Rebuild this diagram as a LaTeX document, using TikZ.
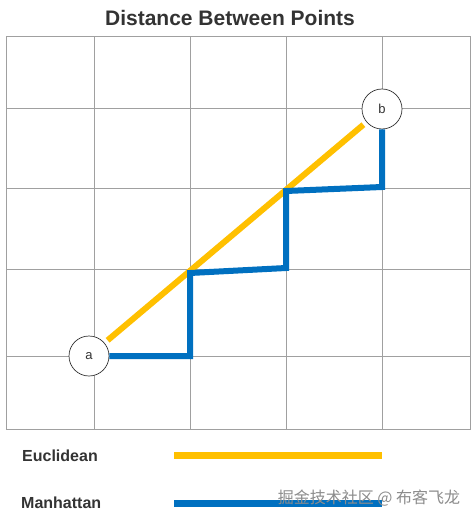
\documentclass[tikz,border=0pt]{standalone}
\usepackage{fontspec}
\setmainfont{Liberation Sans}
\newfontfamily\cjkfont{Noto Sans CJK SC}
\definecolor{gridgray}{HTML}{A0A0A0}
\definecolor{euclid}{HTML}{FFC000}
\definecolor{manhat}{HTML}{0070C0}
\definecolor{txt}{HTML}{333333}
\begin{document}
\begin{tikzpicture}[x=1pt,y=-1pt,
  gridline/.style={draw=gridgray,line width=1pt},
  pointnode/.style={circle,draw=txt,fill=white,line width=0.7pt,minimum size=40pt,inner sep=0pt,font=\fontsize{13}{15}\selectfont,text=txt},
  eucl/.style={draw=euclid,line width=6pt},
  manh/.style={draw=manhat,line width=6pt},
  legtext/.style={anchor=west,font=\bfseries\fontsize{16}{19}\selectfont,text=txt,inner sep=0pt}]
\useasboundingbox[fill=white] (0,0) rectangle (475,521);
\node[font=\bfseries\fontsize{21}{25}\selectfont,text=txt] (title) at (230,18) {Distance Between Points};
% grid
\foreach \x in {94,190,286,382} \draw[gridline] (\x,37) -- (\x,429);
\foreach \y in {109,189,269,356} \draw[gridline] (6,\y) -- (470,\y);
\draw[gridline] (6,37) rectangle (470,429);
% paths
\coordinate (p1) at (190,356);
\coordinate (p2) at (190,273);
\coordinate (p3) at (286,268);
\coordinate (p4) at (286,191);
\coordinate (p5) at (382,187);
\node[pointnode] (a) at (89,356) {a};
\node[pointnode] (b) at (382,109) {b};
\draw[eucl,shorten <=4pt,shorten >=4pt] (a) -- (b);
\draw[manh,line join=miter] (a.east) -- (p1) -- (p2) -- (p3) -- (p4) -- (p5) -- (b.south);
% legend
\node[legtext] (le) at (22,456) {Euclidean};
\node[legtext] (lm) at (21,503) {Manhattan};
\coordinate (e1) at (174,455);
\coordinate (e2) at (382,455);
\coordinate (m1) at (174,503);
\coordinate (m2) at (382,503);
\draw[eucl,line width=7pt] (e1) -- (e2);
\draw[manh,line width=7pt] (m1) -- (m2);
\node[font=\cjkfont\fontsize{16}{19}\selectfont,text=black!45] (wm) at (369,498) {掘金技术社区 @ 布客飞龙};
\end{tikzpicture}
\end{document}
